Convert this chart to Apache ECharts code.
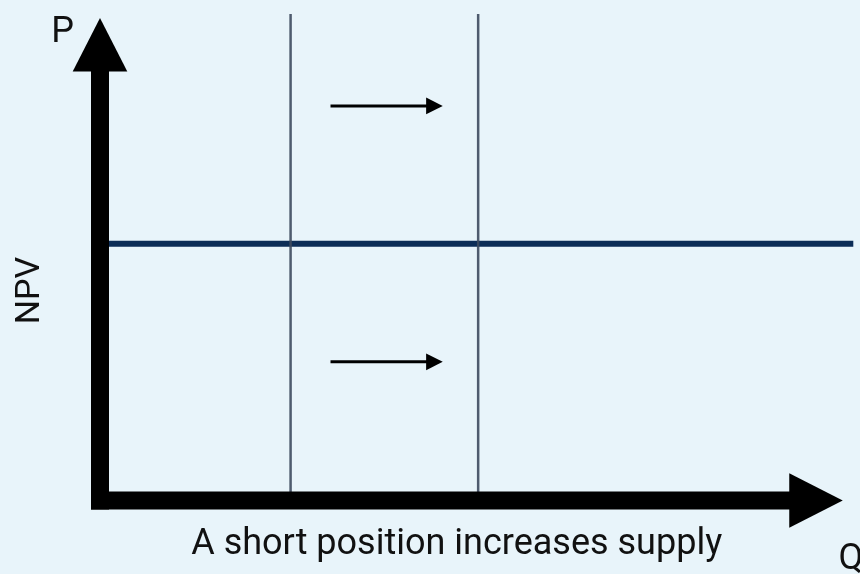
<!DOCTYPE html>
<html><head><meta charset="utf-8">
<script src="https://cdn.jsdelivr.net/npm/echarts@6/dist/echarts.min.js"></script>
<style>html,body{margin:0;padding:0;background:#e8f4fa;} #chart{width:860px;height:574px;}</style>
</head><body><div id="chart"></div>
<script>
// ---- data (chart coordinates: Q horizontal, P vertical) ----
const qRange = [0, 10];
const pRange = [0, 10];
const axisTips = [[9.86, 0], [0, 9.92]];       // tips of the Q and P axis arrows
const supplyQ = [2.53, 5.02];                  // supply before / after the shift
const supplySpanP = [0, 10];
const npvP = 5.28;                             // NPV level
const npvSpanQ = [0, 10];
const shiftArrowP = [8.11, 2.85];              // heights of the shift arrows
const shiftArrowQ = [3.06, 4.55];              // start / tip of the shift arrows
const axisNameP = 'P';
const axisNameQ = 'Q';
const axisNameNPV = 'NPV';
const caption = 'A short position increases supply';

const FONT = '36px Roboto, "Noto Sans", sans-serif';
const chart = echarts.init(document.getElementById('chart'), null, {renderer: 'canvas'});

function renderAxisArrow(params, api) {
  const o = api.coord([0, 0]);
  const t = api.coord([api.value(0), api.value(1)]);
  const dx = t[0] - o[0], dy = t[1] - o[1];
  const len = Math.hypot(dx, dy);
  const ux = dx / len, uy = dy / len;
  const head = 53.5, half = 27.3, w = 18;
  const bx = t[0] - ux * head, by = t[1] - uy * head;
  return {type: 'group', children: [
    {type: 'line', shape: {x1: o[0], y1: o[1], x2: bx, y2: by},
     style: {stroke: '#000', lineWidth: w, lineCap: 'square'}},
    {type: 'polygon', shape: {points: [[t[0], t[1]], [bx - uy * half, by + ux * half], [bx + uy * half, by - ux * half]]},
     style: {fill: '#000'}}
  ]};
}

function renderShiftArrow(params, api) {
  const s = api.coord([api.value(0), api.value(2)]);
  const e = api.coord([api.value(1), api.value(2)]);
  const head = 16.6, half = 8.4;
  const bx = e[0] - head;
  return {type: 'group', children: [
    {type: 'line', shape: {x1: s[0], y1: s[1], x2: bx + 1, y2: e[1]},
     style: {stroke: '#000', lineWidth: 3, lineCap: 'butt'}},
    {type: 'polygon', shape: {points: [[e[0], e[1]], [bx, e[1] - half], [bx, e[1] + half]]},
     style: {fill: '#000'}}
  ]};
}

const series = [];
series.push({type: 'line', data: npvSpanQ.map(q => [q, npvP]), symbol: 'none', silent: true,
  lineStyle: {color: '#0c2d57', width: 6}, z: 2});
supplyQ.forEach(q => series.push({type: 'line', data: supplySpanP.map(p => [q, p]), symbol: 'none', silent: true,
  lineStyle: {color: '#3d4a5e', width: 2.5, opacity: 0.9}, z: 3}));
series.push({type: 'custom', renderItem: renderAxisArrow, data: axisTips, silent: true, z: 4});
series.push({type: 'custom', renderItem: renderShiftArrow,
  data: shiftArrowP.map(p => [shiftArrowQ[0], shiftArrowQ[1], p]), silent: true, z: 5});

chart.setOption({
  animation: false,
  backgroundColor: '#e8f4fa',
  grid: {left: 100, right: 6.7, top: 14, bottom: 73.5},
  xAxis: {type: 'value', min: qRange[0], max: qRange[1], show: false},
  yAxis: {type: 'value', min: pRange[0], max: pRange[1], show: false},
  series: series,
  graphic: [
    {type: 'text', x: 62.5, y: 32.8, style: {text: axisNameP, font: FONT, fill: '#111',
      align: 'center', verticalAlign: 'middle', textAlign: 'center', textVerticalAlign: 'middle'}},
    {type: 'text', x: 851, y: 560, style: {text: axisNameQ, font: FONT, fill: '#111',
      align: 'center', verticalAlign: 'middle', textAlign: 'center', textVerticalAlign: 'middle'}},
    {type: 'text', x: 456.7, y: 544.5, style: {text: caption, font: FONT, fill: '#111',
      align: 'center', verticalAlign: 'middle', textAlign: 'center', textVerticalAlign: 'middle'}},
    {type: 'text', x: 30.3, y: 290.5, rotation: Math.PI / 2, style: {text: axisNameNPV, font: '34px Roboto, "Noto Sans", sans-serif', fill: '#111',
      align: 'center', verticalAlign: 'middle', textAlign: 'center', textVerticalAlign: 'middle'}}
  ]
});
</script></body></html>
